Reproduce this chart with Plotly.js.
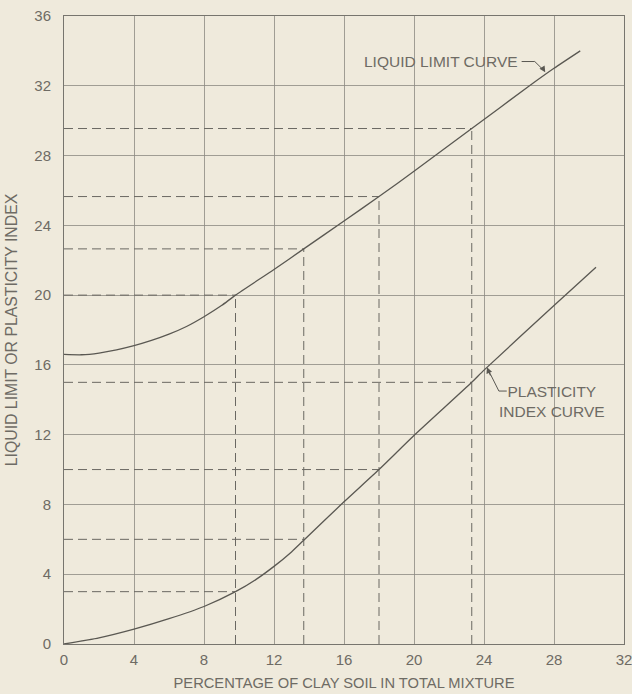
<!DOCTYPE html>
<html>
<head>
<meta charset="utf-8">
<script src="https://cdn.plot.ly/plotly-3.0.1.min.js"></script>
<style>
  html, body { margin: 0; padding: 0; background: #efeadc; }
  #chart { width: 632px; height: 694px; }
</style>
</head>
<body>
<div id="chart"></div>
<script>
// Liquid limit curve
const llX = [0, 1, 2, 3, 4, 5, 6, 7, 8, 9, 9.8, 12, 13.7, 16, 18, 20, 23.3, 26.6, 28, 29.5];
const llY = [16.6, 16.58, 16.68, 16.86, 17.1, 17.4, 17.76, 18.2, 18.76, 19.4, 20, 21.47, 22.65, 24.25, 25.65, 27.1, 29.55, 32, 33, 34];

// Plasticity index curve
const piX = [0, 2, 4, 6, 8, 9.8, 11, 12, 13, 13.7, 16, 18, 20, 23.3, 24, 28, 30.4];
const piY = [0, 0.35, 0.85, 1.45, 2.15, 3, 3.72, 4.45, 5.28, 5.95, 8.15, 10, 11.95, 15, 15.7, 19.4, 21.6];

// Reference (dashed) read-off lines
const refX = [9.8, 13.7, 18, 23.3];
const refLL = [20, 22.65, 25.65, 29.55];
const refPI = [3, 6, 10, 15];

const tickVals = [0, 4, 8, 12, 16, 20, 24, 28, 32];
const yTickVals = [0, 4, 8, 12, 16, 20, 24, 28, 32, 36];

const ink = '#5a5852';
const txt = '#6e6b64';
const fnt = 'Liberation Sans, Arial, sans-serif';

const traces = [];
const dashStyle = {color: '#6a6862', width: 1, dash: '9px,5px'};
refX.forEach((x, i) => {
  traces.push({x: [x, x], y: [0, refLL[i]], mode: 'lines', line: dashStyle, hoverinfo: 'skip', showlegend: false});
  traces.push({x: [0, x], y: [refLL[i], refLL[i]], mode: 'lines', line: dashStyle, hoverinfo: 'skip', showlegend: false});
  traces.push({x: [0, x], y: [refPI[i], refPI[i]], mode: 'lines', line: dashStyle, hoverinfo: 'skip', showlegend: false});
});

traces.push({x: llX, y: llY, mode: 'lines', line: {color: ink, width: 1.3, shape: 'spline', smoothing: 0.6}, showlegend: false, name: 'Liquid limit'});
traces.push({x: piX, y: piY, mode: 'lines', line: {color: ink, width: 1.3, shape: 'spline', smoothing: 0.6}, showlegend: false, name: 'Plasticity index'});

const layout = {
  width: 632, height: 694,
  paper_bgcolor: '#efeadc',
  plot_bgcolor: '#efeadc',
  margin: {l: 64, r: 8, t: 16, b: 50},
  showlegend: false,
  xaxis: {
    range: [0, 32], tickvals: tickVals, ticktext: tickVals.map(String),
    showgrid: true, gridcolor: '#8c8a82', gridwidth: 0.8,
    zeroline: false, showline: true, mirror: true, linecolor: '#77756e', linewidth: 1,
    ticks: '', ticklabeloverflow: 'allow', ticklabelstandoff: 2,
    tickfont: {family: fnt, size: 15, color: txt},
    title: {text: 'PERCENTAGE OF CLAY SOIL IN TOTAL MIXTURE', font: {family: fnt, size: 14.7, color: txt}, standoff: 10}
  },
  yaxis: {
    range: [0, 36], tickvals: yTickVals, ticktext: yTickVals.map(String),
    showgrid: true, gridcolor: '#8c8a82', gridwidth: 0.8,
    zeroline: false, showline: true, mirror: true, linecolor: '#77756e', linewidth: 1,
    ticks: '', ticklabelstandoff: 9,
    tickfont: {family: fnt, size: 15, color: txt},
    title: {text: 'LIQUID LIMIT OR PLASTICITY INDEX', font: {family: fnt, size: 15.8, color: txt}, standoff: 12}
  },
  shapes: [
    {type: 'path', path: 'M 26.15 33.39 L 26.9 33.39 L 27.45 32.85', xref: 'x', yref: 'y', line: {color: ink, width: 1}},
    {type: 'path', path: 'M 25.3 14.5 L 24.85 14.5 L 24.25 15.7', xref: 'x', yref: 'y', line: {color: ink, width: 1}}
  ],
  annotations: [
    {x: 26.05, y: 33.39, xref: 'x', yref: 'y', text: 'LIQUID LIMIT CURVE', showarrow: false, xanchor: 'right', yanchor: 'middle', font: {family: fnt, size: 15.5, color: txt}},
    {x: 27.5, y: 32.78, ax: 27.3, ay: 33.1, axref: 'x', ayref: 'y', xref: 'x', yref: 'y', text: '', showarrow: true, arrowhead: 2, arrowsize: 1.2, arrowwidth: 1, arrowcolor: ink},
    {x: 27.9, y: 14.5, xref: 'x', yref: 'y', text: 'PLASTICITY<br>INDEX CURVE', showarrow: false, xanchor: 'center', yanchor: 'top', yshift: 10, align: 'center', font: {family: fnt, size: 15.5, color: txt}},
    {x: 24.17, y: 15.86, ax: 24.4, ay: 15.3, axref: 'x', ayref: 'y', xref: 'x', yref: 'y', text: '', showarrow: true, arrowhead: 2, arrowsize: 1.2, arrowwidth: 1, arrowcolor: ink}
  ]
};

Plotly.newPlot('chart', traces, layout, {displayModeBar: false, staticPlot: true});
</script>
</body>
</html>
